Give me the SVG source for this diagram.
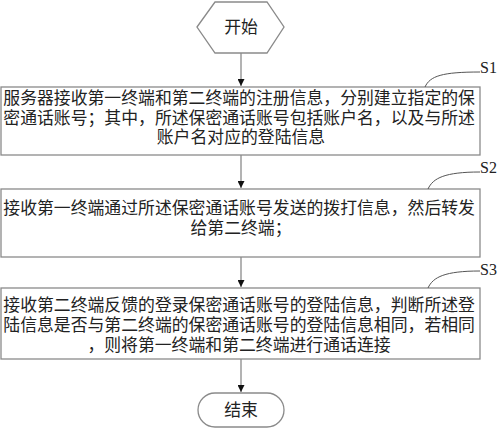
<svg xmlns="http://www.w3.org/2000/svg" width="500" height="430" viewBox="0 0 500 430">
  <defs>
    <marker id="arrow" viewBox="0 0 10 10" refX="10" refY="5" markerWidth="7" markerHeight="7" markerUnits="userSpaceOnUse" orient="auto">
      <path d="M0,0 L10,5 L0,10 z" fill="#111"/>
    </marker>
    <style>
      .shape { fill: #fff; stroke: #8a8a8a; stroke-width: 1.3; }
      .conn { fill: none; stroke: #8a8a8a; stroke-width: 1.3; }
      .lead { fill: none; stroke: #555; stroke-width: 1; }
      .t { font-family: "Noto Sans CJK SC", "Liberation Serif", sans-serif; font-size: 16.85px; fill: #222; }
      .c { text-anchor: middle; }
      .lbl { font-family: "Liberation Serif", serif; font-size: 16px; fill: #222; }
    </style>
  </defs>

  <rect width="500" height="430" fill="#fff"/>

  <g id="connectors">
    <line class="conn" x1="241" y1="53" x2="241" y2="86" marker-end="url(#arrow)"/>
    <line class="conn" x1="241" y1="155" x2="241" y2="188" marker-end="url(#arrow)"/>
    <line class="conn" x1="241" y1="257" x2="241" y2="287" marker-end="url(#arrow)"/>
    <line class="conn" x1="241" y1="359" x2="241" y2="392" marker-end="url(#arrow)"/>
  </g>

  <g id="start">
    <polygon class="shape" points="197,27 215,2 267,2 284,27 267,53 215,53"/>
    <text class="t c" x="241" y="33">开始</text>
  </g>

  <g id="s1">
    <rect class="shape" x="1" y="87" width="479" height="68"/>
    <text class="t c">
      <tspan x="241" y="104">服务器接收第一终端和第二终端的注册信息，分别建立指定的保</tspan>
      <tspan x="241" y="124">密通话账号；其中，所述保密通话账号包括账户名，以及与所述</tspan>
      <tspan x="241" y="143">账户名对应的登陆信息</tspan>
    </text>
    <path class="lead" d="M425,87 C430,76 442,72 480,72"/>
    <text class="lbl" x="480" y="73">S1</text>
  </g>

  <g id="s2">
    <rect class="shape" x="1" y="189" width="479" height="68"/>
    <text class="t c">
      <tspan x="241" y="214">接收第一终端通过所述保密通话账号发送的拨打信息，然后转发</tspan>
      <tspan x="241" y="234">给第二终端；</tspan>
    </text>
    <path class="lead" d="M428,189 C433,178 445,172 480,172"/>
    <text class="lbl" x="480" y="173">S2</text>
  </g>

  <g id="s3">
    <rect class="shape" x="1" y="288" width="479" height="71"/>
    <text class="t c">
      <tspan x="241" y="311">接收第二终端反馈的登录保密通话账号的登陆信息，判断所述登</tspan>
      <tspan x="241" y="331">陆信息是否与第二终端的保密通话账号的登陆信息相同，若相同</tspan>
      <tspan x="239" y="351">，则将第一终端和第二终端进行通话连接</tspan>
    </text>
    <path class="lead" d="M428,288 C433,277 445,271 480,271"/>
    <text class="lbl" x="480" y="275">S3</text>
  </g>

  <g id="end">
    <rect class="shape" x="198" y="393" width="86" height="34" rx="17" ry="17"/>
    <text class="t c" x="241" y="416">结束</text>
  </g>
</svg>
